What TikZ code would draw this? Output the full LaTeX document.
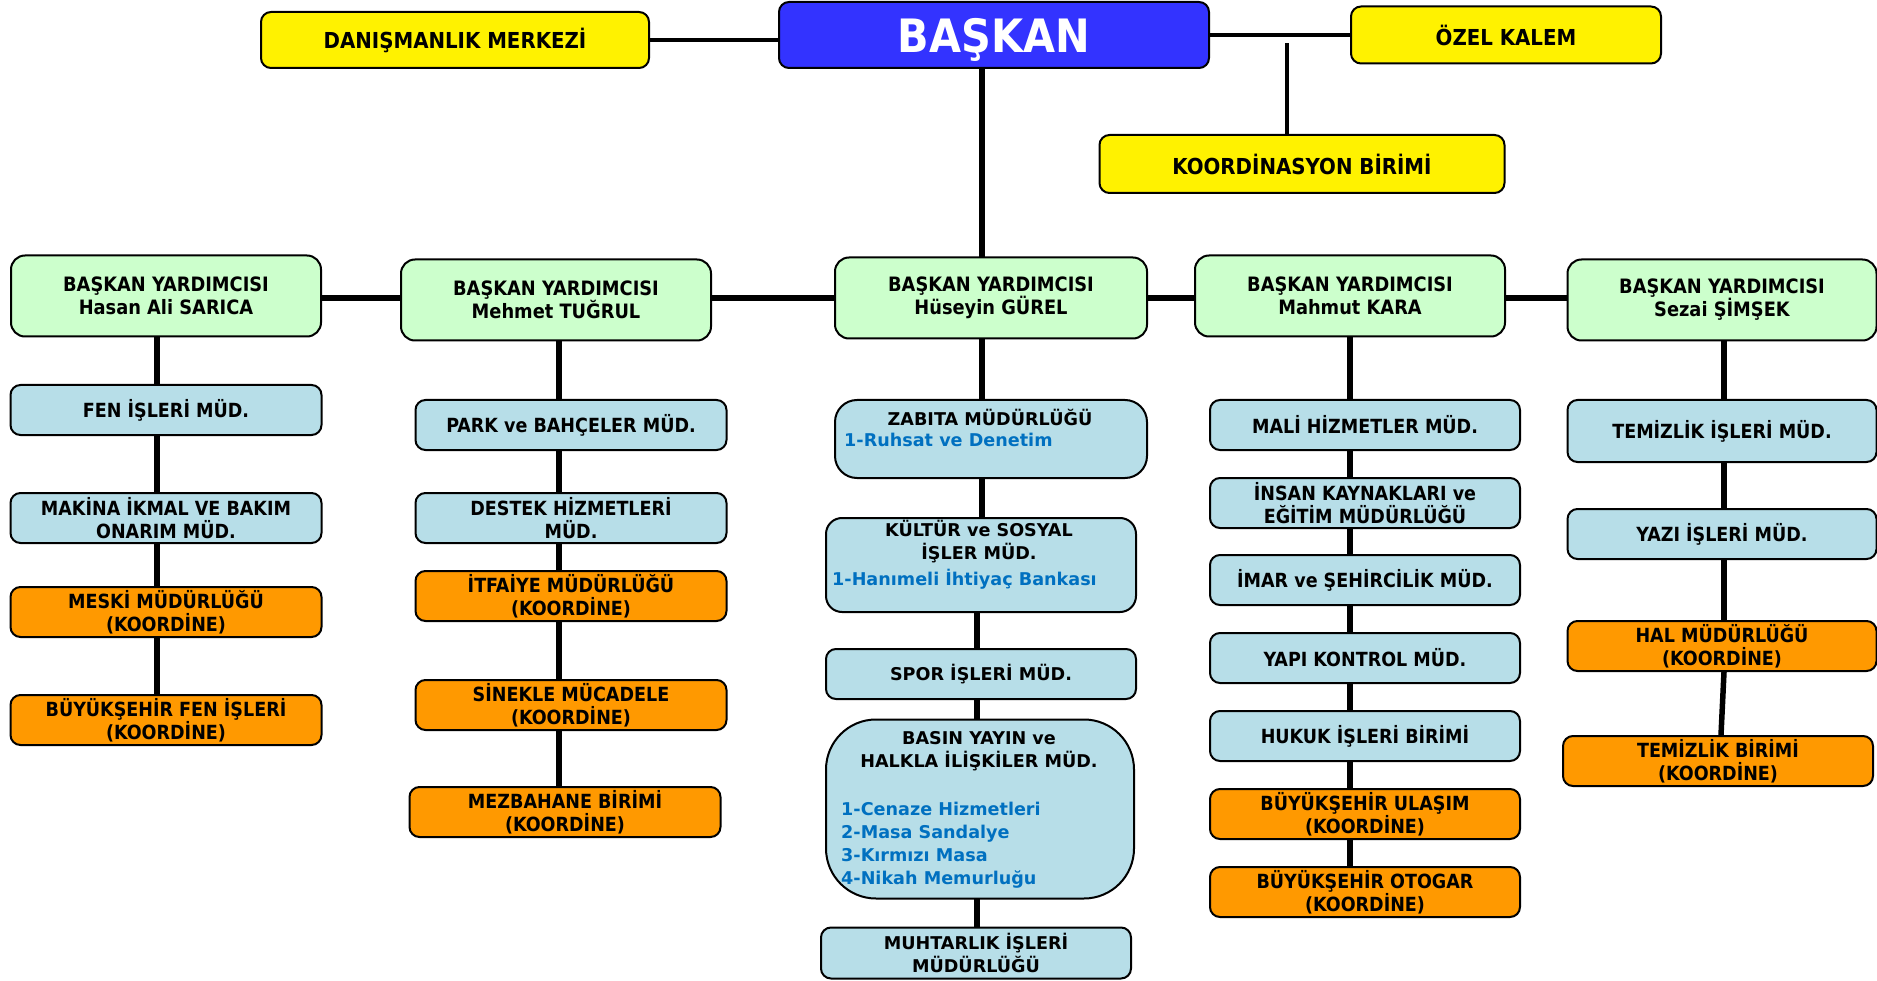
\documentclass[tikz,border=0pt]{standalone}
\usepackage{fontspec}
\newfontfamily\narrowbold{DejaVu Sans Condensed Bold}
\newfontfamily\widebold{DejaVu Sans Bold}
\usepackage{tikz}
\usetikzlibrary{positioning,backgrounds}

\definecolor{chiefblue}{HTML}{3333FF}
\definecolor{deputygreen}{HTML}{CCFFCC}
\definecolor{unitblue}{HTML}{B7DEE8}
\definecolor{coordorange}{HTML}{FF9900}
\definecolor{itemblue}{HTML}{0070C0}

\begin{document}
\begin{tikzpicture}[x=1pt, y=-1pt,
        box/.style={rectangle, rounded corners=10pt, draw=black, line width=2pt, align=center, inner sep=2pt,
            font=\narrowbold\fontsize{19.5}{23}\selectfont},
        yellowbox/.style={box, fill=yellow, minimum height=56pt, font=\narrowbold\fontsize{22}{25}\selectfont},
        chiefbox/.style={box, fill=chiefblue, text=white, font=\narrowbold\fontsize{46}{50}\selectfont},
        deputybox/.style={box, fill=deputygreen, rounded corners=14pt, minimum width=310pt, minimum height=81pt,
            font=\narrowbold\fontsize{19.8}{23}\selectfont},
        unitbox/.style={box, fill=unitblue, minimum width=311pt, minimum height=50pt},
        koordbox/.style={box, fill=coordorange, minimum width=311pt, minimum height=50pt},
        midbox/.style={unitbox, font=\widebold\fontsize{17.6}{23}\selectfont},
        midtitle/.style={align=center, inner sep=0pt, font=\widebold\fontsize{17.6}{23}\selectfont},
        miditem/.style={align=left, inner sep=0pt, text=itemblue, font=\widebold\fontsize{17.6}{23}\selectfont},
        link/.style={line width=5.5pt},
        toplink/.style={line width=4.5pt}
    ]
    \useasboundingbox (0,0) rectangle (1877,981);

    % top level
    \node[chiefbox, minimum width=430pt, minimum height=66pt] (baskan) at (994,35) {\raisebox{-5pt}[\height][\depth]{BAŞKAN}};
    \node[yellowbox, minimum width=388pt] (danisma) at (455,40) {DANIŞMANLIK MERKEZİ};
    \node[yellowbox, minimum width=310pt, minimum height=57pt] (ozel) at (1506,35) {ÖZEL KALEM};
    \node[yellowbox, minimum width=405pt, minimum height=58pt] (koord) at (1302,164) {KOORDİNASYON BİRİMİ};
    \coordinate (koordtop) at (1287,43);

    % deputies
    \node[deputybox] (sarica) at (166,296) {BAŞKAN YARDIMCISI\\Hasan Ali SARICA};
    \node[deputybox] (tugrul) at (556,300) {BAŞKAN YARDIMCISI\\Mehmet TUĞRUL};
    \node[deputybox, minimum width=312pt] (gurel) at (991,298) {BAŞKAN YARDIMCISI\\Hüseyin GÜREL};
    \node[deputybox] (kara) at (1350,296) {BAŞKAN YARDIMCISI\\Mahmut KARA};
    \node[deputybox, minimum width=309pt] (simsek) at (1722,300) {BAŞKAN YARDIMCISI\\Sezai ŞİMŞEK};

    % column 1
    \node[unitbox] (fen) at (166,410) {FEN İŞLERİ MÜD.};
    \node[unitbox] (makina) at (166,518) {MAKİNA İKMAL VE BAKIM\\ONARIM MÜD.};
    \node[koordbox] (meski) at (166,612) {MESKİ MÜDÜRLÜĞÜ\\(KOORDİNE)};
    \node[koordbox] (bfen) at (166,720) {BÜYÜKŞEHİR FEN İŞLERİ\\(KOORDİNE)};

    % column 2
    \node[unitbox] (park) at (571,425) {PARK ve BAHÇELER MÜD.};
    \node[unitbox] (destek) at (571,518) {DESTEK HİZMETLERİ\\MÜD.};
    \node[koordbox] (itfaiye) at (571,596) {İTFAİYE MÜDÜRLÜĞÜ\\(KOORDİNE)};
    \node[koordbox] (sinekle) at (571,705) {SİNEKLE MÜCADELE\\(KOORDİNE)};
    \node[koordbox] (mezbahane) at (565,812) {MEZBAHANE BİRİMİ\\(KOORDİNE)};

    % column 3
    \node[unitbox, rounded corners=22pt, minimum width=312pt, minimum height=78pt] (zabita) at (991,439) {};
    \node[midtitle] (zabitatitle) at (990,417) {ZABITA MÜDÜRLÜĞÜ};
    \node[miditem, anchor=west] (zabitalist) at (844,440) {1-Ruhsat ve Denetim};
    \node[unitbox, rounded corners=16pt, minimum width=310pt, minimum height=94pt] (kultur) at (981,565) {};
    \node[midtitle] (kulturtitle) at (979,542) {KÜLTÜR ve SOSYAL\\İŞLER MÜD.};
    \node[miditem, anchor=west] (kulturlist) at (832,579) {1-Hanımeli İhtiyaç Bankası};
    \node[midbox, minimum width=310pt] (spor) at (981,674) {SPOR İŞLERİ MÜD.};
    \node[unitbox, rounded corners=50pt, minimum width=308pt, minimum height=179pt] (basin) at (980,809) {};
    \node[midtitle] (basintitle) at (979,751) {BASIN YAYIN ve\\HALKLA İLİŞKİLER MÜD.};
    \node[miditem, anchor=north west] (basinlist) at (841,802) {1-Cenaze Hizmetleri\\2-Masa Sandalye\\3-Kırmızı Masa\\4-Nikah Memurluğu};
    \node[midbox, minimum width=310pt, minimum height=51pt] (muhtarlik) at (976,953) {MUHTARLIK İŞLERİ\\MÜDÜRLÜĞÜ};

    % column 4
    \node[unitbox, minimum width=310pt] (mali) at (1365,425) {MALİ HİZMETLER MÜD.};
    \node[unitbox, minimum width=310pt] (insan) at (1365,503) {İNSAN KAYNAKLARI ve\\EĞİTİM MÜDÜRLÜĞÜ};
    \node[unitbox, minimum width=310pt] (imar) at (1365,580) {İMAR ve ŞEHİRCİLİK MÜD.};
    \node[unitbox, minimum width=310pt] (yapi) at (1365,658) {YAPI KONTROL MÜD.};
    \node[unitbox, minimum width=310pt] (hukuk) at (1365,736) {HUKUK İŞLERİ BİRİMİ};
    \node[koordbox, minimum width=310pt] (ulasim) at (1365,814) {BÜYÜKŞEHİR ULAŞIM\\(KOORDİNE)};
    \node[koordbox, minimum width=310pt] (otogar) at (1365,892) {BÜYÜKŞEHİR OTOGAR\\(KOORDİNE)};

    % column 5
    \node[unitbox, minimum width=309pt, minimum height=62pt] (temizlik) at (1722,431) {TEMİZLİK İŞLERİ MÜD.};
    \node[unitbox, minimum width=309pt] (yazi) at (1722,534) {YAZI İŞLERİ MÜD.};
    \node[koordbox, minimum width=309pt] (hal) at (1722,646) {HAL MÜDÜRLÜĞÜ\\(KOORDİNE)};
    \node[koordbox, minimum width=310pt] (tembirim) at (1718,761) {TEMİZLİK BİRİMİ\\(KOORDİNE)};

    % connectors
    \coordinate (row) at (0,298);
    \coordinate (c1) at (157,0);
    \coordinate (c2) at (559,0);
    \coordinate (c3) at (982,0);
    \coordinate (c3b) at (977,0);
    \coordinate (c4) at (1350,0);
    \coordinate (c5) at (1724,0);
    \coordinate (c5b) at (1721,0);
    \begin{scope}[on background layer]
        \draw[toplink] (danisma.east) -- (danisma.east -| baskan.west);
        \draw[toplink] (baskan.east) -- (ozel.west);
        \draw[toplink] (koord.north -| koordtop) -- (koordtop);
        \draw[link] (baskan.south -| c3) -- (kultur.north -| c3);
        \draw[link] (kultur.south -| c3b) -- (muhtarlik.north -| c3b);
        \draw[link] (sarica.east |- row) -- (simsek.west |- row);
        \draw[link] (sarica.south -| c1) -- (bfen.north -| c1);
        \draw[link] (tugrul.south -| c2) -- (mezbahane.north -| c2);
        \draw[link] (kara.south -| c4) -- (otogar.north -| c4);
        \draw[link] (simsek.south -| c5) -- (hal.south -| c5);
        \draw[link] (hal.south -| c5) -- (tembirim.north -| c5b);
    \end{scope}
\end{tikzpicture}
\end{document}
